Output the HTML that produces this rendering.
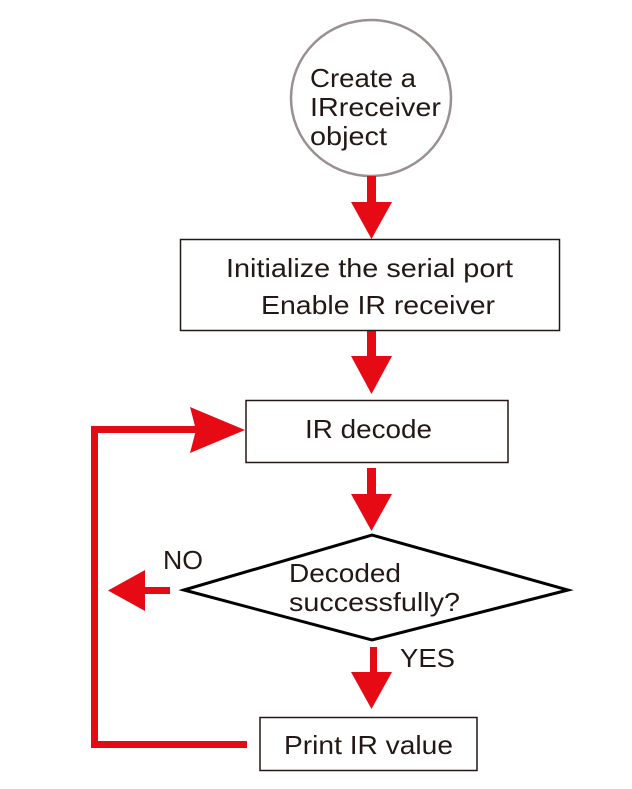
<!DOCTYPE html>
<html><head><meta charset="utf-8"><style>
html,body{margin:0;padding:0;background:#fff;}
svg{display:block;}
text{font-family:"Liberation Sans",sans-serif;fill:#231815;font-size:26px;}
</style></head><body>
<svg width="632" height="789" viewBox="0 0 632 789">
<ellipse cx="371" cy="98" rx="80" ry="78" fill="#fff" stroke="#9a9090" stroke-width="2.5"/>
<text x="310" y="87" textLength="106" lengthAdjust="spacingAndGlyphs">Create a</text>
<text x="310" y="116" textLength="131" lengthAdjust="spacingAndGlyphs">IRreceiver</text>
<text x="310" y="145" textLength="77" lengthAdjust="spacingAndGlyphs">object</text>
<g fill="#e60a14">
<rect x="367" y="176" width="9" height="28"/><polygon points="351,202 392,202 371.5,239"/>
<rect x="367" y="331" width="9" height="27"/><polygon points="351,356 392,356 371.5,394"/>
<rect x="367" y="468" width="9" height="28"/><polygon points="351,494 392,494 371.5,531"/>
<rect x="370" y="647" width="7" height="27"/><polygon points="351,672 392,672 371.5,709"/>
<rect x="145" y="587" width="25" height="7"/><polygon points="108,590.5 145,570 145,611"/>
<rect x="91" y="426" width="7" height="322"/>
<rect x="91" y="426" width="105" height="7"/>
<polygon points="190,407 245,430 190,453 196,430"/>
<rect x="91" y="741" width="156" height="7"/>
</g>
<rect x="180.5" y="239.5" width="379" height="91" fill="#fff" stroke="#231815" stroke-width="1.5"/>
<text x="226" y="277" textLength="287" lengthAdjust="spacingAndGlyphs">Initialize the serial port</text>
<text x="261" y="314" textLength="234" lengthAdjust="spacingAndGlyphs">Enable IR receiver</text>
<rect x="246" y="400.5" width="262" height="62" fill="#fff" stroke="#231815" stroke-width="1.5"/>
<text x="305" y="438" textLength="127" lengthAdjust="spacingAndGlyphs">IR decode</text>
<polygon points="184,590 372,535 568,590 372,640" fill="#fff" stroke="#000" stroke-width="3"/>
<text x="289" y="582" textLength="112" lengthAdjust="spacingAndGlyphs">Decoded</text>
<text x="289" y="611" textLength="171" lengthAdjust="spacingAndGlyphs">successfully?</text>
<text x="163" y="569" textLength="40" lengthAdjust="spacingAndGlyphs">NO</text>
<text x="400" y="667" textLength="55" lengthAdjust="spacingAndGlyphs">YES</text>
<rect x="260" y="717.5" width="217" height="53" fill="#fff" stroke="#231815" stroke-width="1.5"/>
<text x="284" y="754" textLength="169" lengthAdjust="spacingAndGlyphs">Print IR value</text>
</svg>
</body></html>
